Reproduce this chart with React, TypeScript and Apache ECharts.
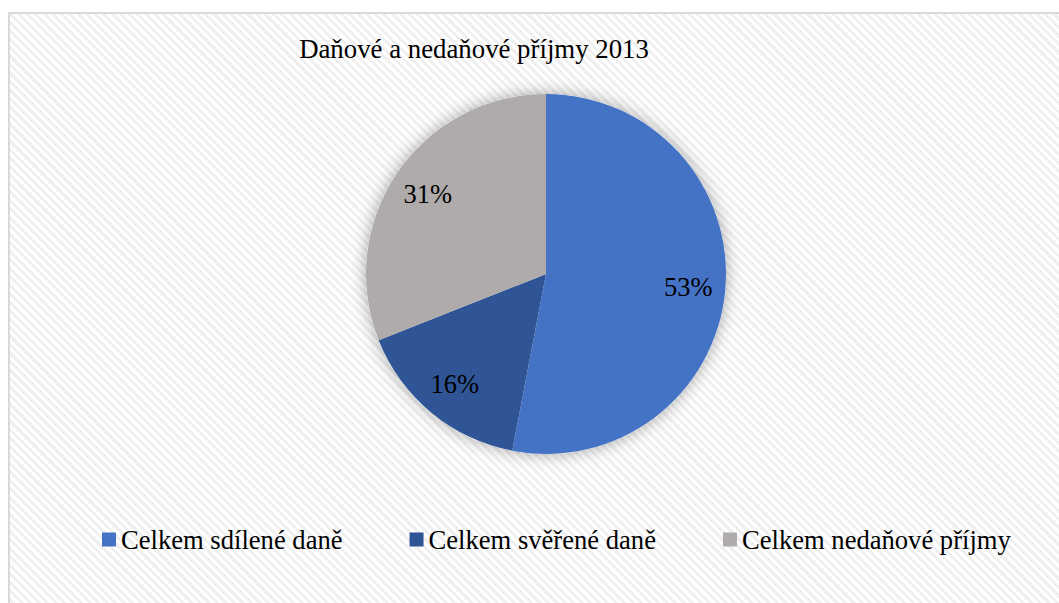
import React, { useEffect, useRef } from "react";
import * as echarts from "echarts";

// Struktura příjmů 2013 (podíl v %)
const categories: string[] = [
  "Celkem sdílené daně",
  "Celkem svěřené daně",
  "Celkem nedaňové příjmy",
];
const shares: number[] = [53, 16, 31];
const sliceColors: string[] = ["#4472C4", "#2F5597", "#AFABAB"];
const chartTitle = "Daňové a nedaňové příjmy 2013";

const FONT = "Liberation Serif";

export default function App() {
  const ref = useRef<HTMLDivElement>(null);

  useEffect(() => {
    if (!ref.current) return;
    const chart = echarts.init(ref.current, undefined, { renderer: "svg" });
    const center = [536, 260];
    const radius = 180;

    const pieData = categories.map((name, i) => ({
      name,
      value: shares[i],
      itemStyle: { color: sliceColors[i] },
    }));

    chart.setOption({
      animation: false,
      backgroundColor: "transparent",
      textStyle: { fontFamily: FONT, fontSize: 26, color: "#000" },
      title: {
        text: chartTitle,
        left: 464,
        top: 21,
        padding: 0,
        textAlign: "center",
        textStyle: {
          fontFamily: FONT,
          fontSize: 26.8,
          fontWeight: "normal",
          color: "#000",
        },
      },
      legend: {
        data: categories,
        left: 92,
        top: 512,
        padding: 0,
        itemWidth: 14,
        itemHeight: 14,
        itemGap: 67,
        icon: "rect",
        selectedMode: false,
        textStyle: { fontFamily: FONT, fontSize: 26.6, color: "#000" },
      },
      series: [
        {
          // the pie itself
          type: "pie",
          name: "podíl",
          z: 2,
          center,
          radius: [0, radius],
          startAngle: 90,
          clockwise: true,
          silent: true,
          label: { show: false },
          labelLine: { show: false },
          data: pieData,
        },
        {
          // soft drop shadow behind the whole disc
          type: "pie",
          name: "stin",
          z: 1,
          center,
          radius: [0, radius],
          silent: true,
          label: { show: false },
          labelLine: { show: false },
          itemStyle: {
            color: "#ffffff",
            shadowBlur: 16,
            shadowColor: "rgba(0,0,0,0.35)",
          },
          data: [{ name: "", value: 1 }],
        },
        {
          // invisible ring used only to place percentage labels further out
          type: "pie",
          name: "popisky",
          z: 3,
          center,
          radius: [0, 280],
          startAngle: 90,
          clockwise: true,
          silent: true,
          itemStyle: { color: "rgba(0,0,0,0)" },
          label: {
            show: true,
            position: "inside",
            formatter: "{c}%",
            fontFamily: FONT,
            fontSize: 26.5,
            color: "#000",
          },
          labelLine: { show: false },
          data: categories.map((name, i) => ({ name, value: shares[i] })),
        },
      ],
    });

    return () => chart.dispose();
  }, []);

  return (
    <div
      style={{
        position: "fixed",
        left: 8,
        top: 12,
        width: 1060,
        height: 600,
        borderLeft: "2px solid #d9d9d9",
        borderTop: "2px solid #d9d9d9",
        background:
          "repeating-linear-gradient(45deg, #ffffff 0px, #ffffff 3px, #f0f0f0 3px, #f0f0f0 6px)",
      }}
    >
      <div ref={ref} style={{ width: 1049, height: 589 }} />
    </div>
  );
}
